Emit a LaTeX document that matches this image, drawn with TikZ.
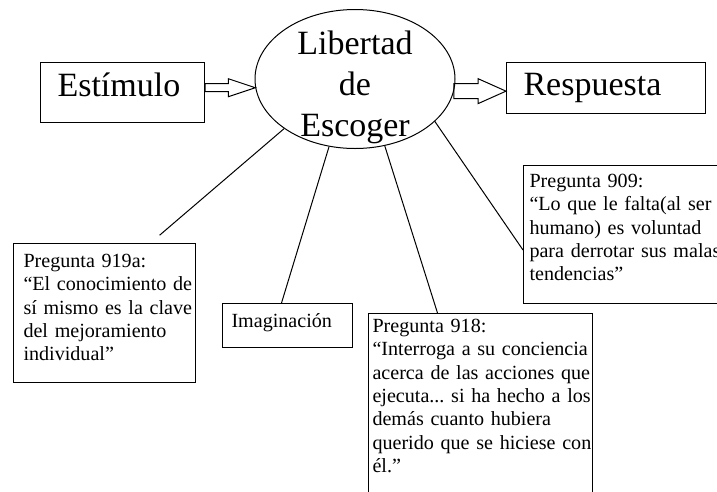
\documentclass[tikz,border=0pt]{standalone}
\usepackage{fontspec}
\setmainfont{Liberation Serif}
\usetikzlibrary{shapes.geometric,calc}
\frenchspacing
\newcommand{\grande}{\fontsize{34}{41}\selectfont}
\newcommand{\chica}{\fontsize{20.1}{23.3}\selectfont}
\newcommand{\flechagorda}[5]{%
  \draw[line join=miter] let \p1=(#1), \p2=(#2) in
    (\x1,\y2+#3pt) -- (\x2-#5pt,\y2+#3pt) -- (\x2-#5pt,\y2+#4pt) -- (\x2,\y2)
    -- (\x2-#5pt,\y2-#4pt) -- (\x2-#5pt,\y2-#3pt) -- (\x1,\y2-#3pt) -- cycle;}
\tikzset{
    caja/.style={
      rectangle,
      draw=black,
      anchor=north west,
      inner ysep=0pt,
      align=left,
    },
    libre/.style={
      ellipse,
      draw=black,
      minimum width=200pt,
      minimum height=139pt,
      inner sep=0pt,
    },
}
\begin{document}
\begin{tikzpicture}[x=1pt,y=-1pt,line width=1pt]

    \useasboundingbox (0,0) rectangle (717,491);
    \clip (0,0) rectangle (717,491);

    \node[libre] (LIB) at (355,79) {};
    \node[font=\grande, anchor=base, inner sep=0pt] (LEMA)
      at ([yshift=25pt]LIB.center)
    {
      \begin{tabular}[t]{@{}c@{}}
        Libertad \\
        de \\
        Escoger
      \end{tabular}
    };

    \node[caja, font=\grande,
    inner xsep=17pt, text width=130pt,
    text height=34pt, text depth=26pt] (EST) at (40,62) {Estímulo};

    \node[caja, font=\grande,
    inner xsep=17pt, text width=165pt,
    text height=33pt, text depth=18pt] (RESP) at (506,62) {Respuesta};

    \node[caja, font=\chica,
    inner xsep=10pt, text width=162pt,
    text height=24pt, text depth=115pt] (P919A) at (13,243)
    {
      \begin{tabular}[t]{@{}l@{}}
        Pregunta 919a: \\
        “El conocimiento de \\
        sí mismo es la clave \\
        del mejoramiento \\
        individual”
      \end{tabular}
    };

    \node[caja, font=\chica,
    inner xsep=9pt, text width=112pt,
    text height=24pt, text depth=20pt] (IMAG) at (222,303) {Imaginación};

    \node[caja, font=\chica,
    inner xsep=4pt, text width=216pt,
    text height=19pt, text depth=180pt] (P918) at (368,313)
    {
      \begin{tabular}[t]{@{}l@{}}
        Pregunta 918: \\
        “Interroga a su conciencia \\
        acerca de las acciones que \\
        ejecuta... si ha hecho a los \\
        demás cuanto hubiera \\
        querido que se hiciese con \\
        él.”
      \end{tabular}
    };

    \node[caja, font=\chica,
    inner xsep=6pt, text width=190pt,
    text height=22pt, text depth=116pt] (P909) at (523,165)
    {
      \begin{tabular}[t]{@{}l@{}}
        Pregunta 909: \\
        “Lo que le falta(al ser \\
        humano) es voluntad \\
        para derrotar sus malas \\
        tendencias”
      \end{tabular}
    };

    \flechagorda{EST.east |- LIB.185}{LIB.185}{4}{9}{27}
    \flechagorda{LIB.353}{RESP.west |- LIB.353}{7.5}{12.5}{28}

    \path
    (LIB.215) edge[shorten >=12pt] ([xshift=46pt]P919A.north)
    (LIB.249) edge ([xshift=-6pt]IMAG.north)
    (LIB.294) edge ([xshift=-43pt]P918.north)
    (LIB.332) edge ([yshift=-85pt]P909.north west);

\end{tikzpicture}
\end{document}
